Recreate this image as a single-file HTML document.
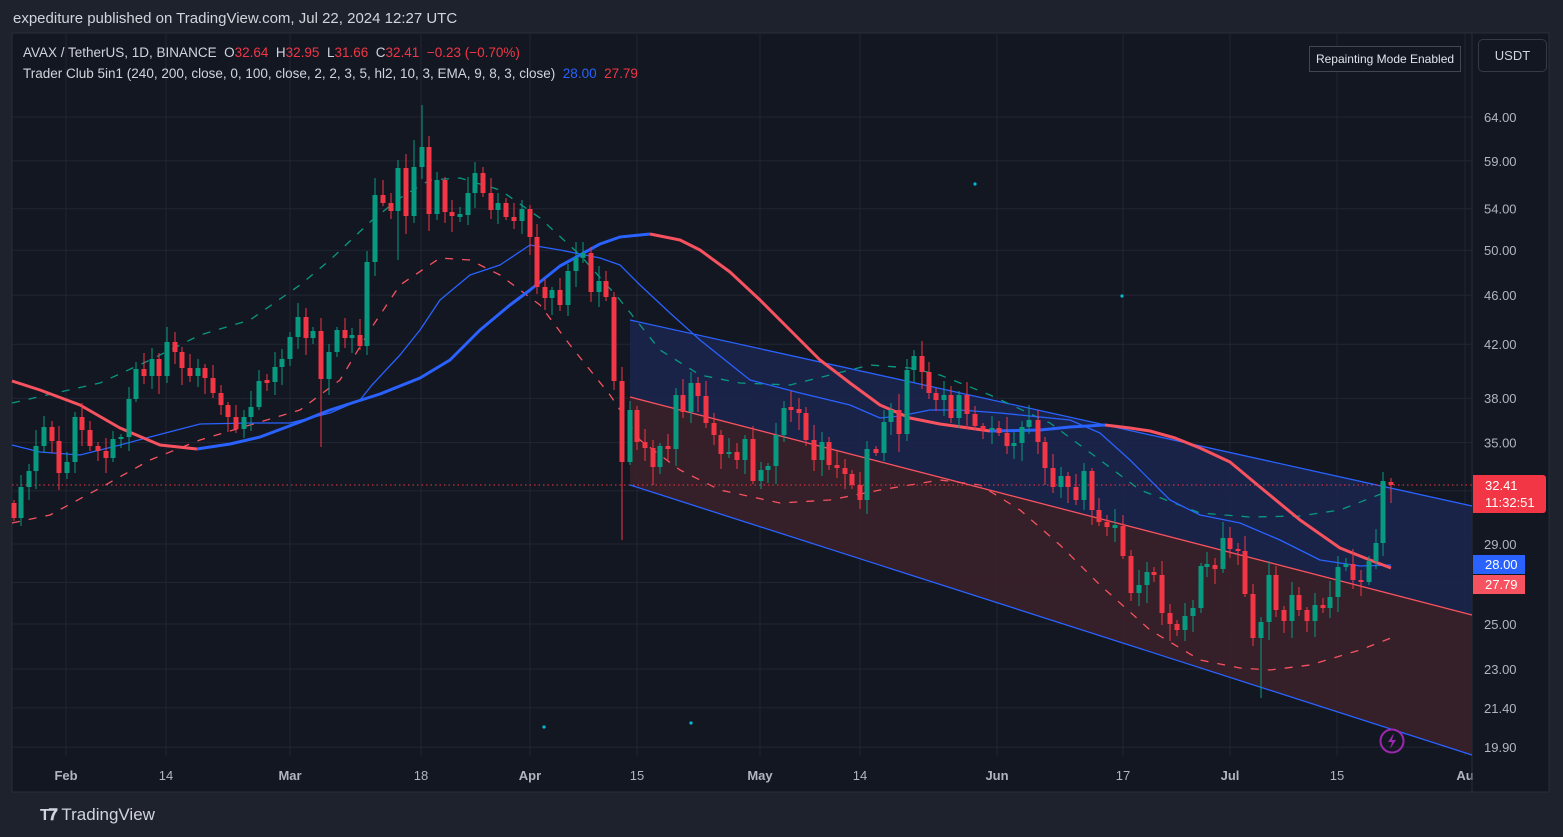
<!DOCTYPE html>
<html><head><meta charset="utf-8"><style>
html,body{margin:0;padding:0;background:#1e222d;width:1563px;height:837px;overflow:hidden;font-family:"Liberation Sans",sans-serif}
#wrap{position:absolute;left:0;top:0;width:1563px;height:837px}
.t{position:absolute;white-space:nowrap}
</style></head><body><div id="wrap">
<svg id="s" width="1563" height="837" style="position:absolute;left:0;top:0"></svg>
<div class="t" style="left:13px;top:10px;font-size:15px;color:#d1d4dc">expediture published on TradingView.com, Jul 22, 2024 12:27 UTC</div>
<div class="t" style="left:23px;top:45px;font-size:13.5px;color:#d1d4dc">AVAX / TetherUS, 1D, BINANCE&nbsp; O<span style="color:#f23645">32.64</span>&nbsp; H<span style="color:#f23645">32.95</span>&nbsp; L<span style="color:#f23645">31.66</span>&nbsp; C<span style="color:#f23645">32.41</span>&nbsp; <span style="color:#f23645">−0.23 (−0.70%)</span></div>
<div class="t" style="left:23px;top:66px;font-size:13.5px;color:#d1d4dc">Trader Club 5in1 (240, 200, close, 0, 100, close, 2, 2, 3, 5, hl2, 10, 3, EMA, 9, 8, 3, close)&nbsp; <span style="color:#2962ff">28.00</span>&nbsp; <span style="color:#f23645">27.79</span></div>
<div class="t" style="left:1309px;top:46px;width:150px;height:24px;border:1px solid #434651;background:#131722;color:#e0e3eb;font-size:12px;line-height:24px;text-align:center">Repainting Mode Enabled</div>
<div class="t" style="left:1478px;top:39px;width:67px;height:31px;border:1px solid #363a45;border-radius:5px;background:#131722;color:#d1d4dc;font-size:13px;line-height:31px;text-align:center">USDT</div>
<div class="t" style="left:1473px;top:475px;width:73px;height:38px;background:#f23645;border-radius:0 3px 3px 0;color:#fff;font-size:13px;line-height:17px;padding-left:12px;box-sizing:border-box;padding-top:2px">32.41<br>11:32:51</div>
<div class="t" style="left:1473px;top:555px;width:52px;height:19px;background:#2962ff;color:#fff;font-size:13px;line-height:19px;padding-left:12px;box-sizing:border-box">28.00</div>
<div class="t" style="left:1473px;top:575px;width:52px;height:19px;background:#f7525f;color:#fff;font-size:13px;line-height:19px;padding-left:12px;box-sizing:border-box">27.79</div>
<div class="t" style="left:40px;top:805px;font-size:17px;color:#d1d4dc"><span style="font-weight:bold;font-size:16px;letter-spacing:-1px">T𝟕</span>&nbsp;TradingView</div>
</div>
<script>
var s=document.getElementById('s'),h='';
function Y(p){return 117+(4.1589-Math.log(p))*539.4;}
h+='<rect x="12" y="33" width="1537" height="759" fill="#131722" stroke="#2a2e39"/>';
var prices=[[64,'64.00'],[59,'59.00'],[54,'54.00'],[50,'50.00'],[46,'46.00'],[42,'42.00'],[38,'38.00'],[35,'35.00'],[32,null],[29,'29.00'],[27,null],[25,'25.00'],[23,'23.00'],[21.4,'21.40'],[19.9,'19.90']];
prices.forEach(function(p){var y=Y(p[0]).toFixed(1);h+='<line x1="12" x2="1472" y1="'+y+'" y2="'+y+'" stroke="#232632"/>';if(p[1])h+='<text x="1484" y="'+(+y+5)+'" fill="#b2b5be" font-size="13" font-family="Liberation Sans">'+p[1]+'</text>';});
var dates=[[66,'Feb'],[166,'14'],[290,'Mar'],[421,'18'],[530,'Apr'],[637,'15'],[760,'May'],[860,'14'],[997,'Jun'],[1123,'17'],[1230,'Jul'],[1337,'15'],[1465,'Au']];
dates.forEach(function(d){h+='<line x1="'+d[0]+'" x2="'+d[0]+'" y1="33" y2="756" stroke="#232632"/>';var b=isNaN(+d[1]);h+='<text x="'+d[0]+'" y="780" text-anchor="middle" fill="#b2b5be" font-size="13" '+(b?'font-weight="bold" ':'')+'font-family="Liberation Sans">'+d[1]+'</text>';});
h+='<line x1="1472" x2="1472" y1="33" y2="792" stroke="#2a2e39"/>';
h+='<polygon points="630,320 1472,506 1472,615 630,397" fill="#1b264d" fill-opacity="0.85"/>';
h+='<polygon points="630,397 1472,615 1472,755 630,485" fill="#3a2029" fill-opacity="0.9"/>';
h+='<line x1="630" y1="320" x2="1472" y2="506" stroke="#2962ff" stroke-width="1.3"/>';
h+='<line x1="630" y1="397" x2="1472" y2="615" stroke="#f7525f" stroke-width="1.3"/>';
h+='<line x1="630" y1="485" x2="1472" y2="755" stroke="#2962ff" stroke-width="1.3"/>';
function pl(a,c,w,d){h+='<polyline fill="none" stroke="'+c+'" stroke-width="'+w+'" '+(d?'stroke-dasharray="'+d+'" ':'')+'stroke-linejoin="round" points="'+a.join(' ')+'"/>';}
pl(["12,403","60,392","100,383","150,360","200,335","250,320","300,285","330,260","370,222","400,198","430,180","460,178","500,190","540,218","580,255","620,300","660,350","700,375","740,383","790,385","830,375","870,365","910,368","940,375","990,395","1050,423","1100,460","1140,490","1200,513","1250,517","1300,516","1340,510","1391,490"],"#089981",1.3,"8,9");
pl(["12,523","50,515","100,488","150,460","200,440","250,425","300,410","340,380","370,330","400,285","440,258","470,260","500,275","540,305","570,345","610,395","640,440","680,470","720,490","780,503","830,500","880,490","940,480","980,485","1020,510","1060,545","1100,585","1150,630","1200,660","1240,668","1270,670","1310,665","1360,650","1391,638"],"#f7525f",1.3,"8,9");
pl(["12,445","40,452","80,455","120,445","150,437","200,424","250,423","290,423","330,413","360,400","372,385","400,355","420,330","440,300","470,275","500,265","530,245","560,250","600,258","620,265","640,285","670,313","700,340","750,380","800,393","850,405","880,418","900,416","930,410","960,410","1000,413","1050,418","1070,420","1100,433","1130,460","1170,500","1200,515","1240,523","1280,540","1320,560","1360,566","1391,565"],"#2962ff",1.3);
pl(["12,381","40,390","80,405","120,428","160,445","197,449"],"#f7525f",3);
pl(["197,449","230,444","260,437","300,422","330,410","380,394","420,378","450,360","480,330","510,305","530,290","560,266","580,255","600,244","620,237","650,234"],"#2962ff",3);
pl(["650,234","680,240","700,250","730,272","760,300","790,330","820,360","850,383","880,405","910,418","940,424","990,431"],"#f7525f",3);
pl(["990,431","1040,430","1070,427","1105,425"],"#2962ff",3);
pl(["1105,425","1130,428","1150,431","1175,438","1200,448","1230,462","1260,487","1300,520","1340,548","1370,560","1391,568"],"#f7525f",3);
h+='<line x1="12" x2="1472" y1="485" y2="485" stroke="#f23645" stroke-width="1" stroke-dasharray="1.5,3"/>';
var C=[[14,518,503],[21,487],[29,471],[36,446],[44,427],[52,441],[59,473],[67,462],[75,417],[82,430],[90,446],[98,451],[106,458],[113,439],[121,437],[129,399],[136,369],[144,376],[152,359],[159,376],[167,342],[175,352],[182,368],[190,376],[198,368],[205,378],[213,393],[221,405],[228,417],[236,429],[244,417],[251,407],[259,381],[267,382],[275,367],[282,359],[290,337],[298,317],[306,338],[313,331],[321,379],[329,352],[337,330],[345,338],[352,335],[360,346],[367,262],[375,195],[383,203],[391,211],[398,168],[406,216],[414,167],[422,147],[429,214],[437,180],[445,212],[452,216],[460,215],[468,193],[475,173],[483,193],[491,210],[498,203],[506,217],[514,221],[522,209],[530,237],[537,287],[545,298],[552,290],[560,305],[568,271],[576,258],[583,253],[591,292],[599,281],[606,297],[614,381],[622,462],[630,410],[637,442],[645,448],[653,467],[660,446],[668,449],[676,395],[683,412],[691,383],[698,396],[706,423],[714,435],[721,454],[729,452],[737,460],[745,439],[753,481],[761,470],[768,466],[776,435],[784,408],[791,409],[799,413],[806,440],[814,460],[822,442],[829,465],[837,468],[845,474],[852,485],[860,500],[867,449],[876,453],[884,422],[891,410],[899,434],[907,370],[914,356],[922,372],[929,393],[936,400],[944,395],[951,418],[959,395],[967,414],[975,426],[983,430],[992,428],[999,433],[1007,446],[1014,443],[1022,427],[1029,420],[1038,442],[1045,468],[1053,487],[1061,476],[1068,487],[1076,500],[1084,471],[1092,510],[1099,522],[1107,527],[1115,526],[1123,556],[1131,593],[1139,585],[1147,572],[1154,575],[1162,613],[1170,624],[1177,630],[1185,616],[1193,608],[1201,566],[1207,565],[1215,569],[1223,538],[1230,549],[1238,551],[1245,594],[1253,638],[1261,622],[1269,575],[1276,610],[1284,621],[1292,595],[1299,610],[1307,621],[1315,605],[1323,608],[1330,597],[1338,567],[1346,564],[1353,580],[1361,582],[1369,561],[1376,543],[1383,481],[1391,485,482]];
var special={622:[null,540],1261:[null,698],422:[105,null],321:[null,447],375:[178,null],414:[140,null],429:[136,null],398:[160,260]};
var prev=510;
for(var i=0;i<C.length;i++){var x=C[i][0],c=C[i][1],o=C[i][2]!==undefined?C[i][2]:prev;prev=c;
var up=c<o||(c==o&&i%2==0);var col=up?'#089981':'#f23645';
var t=Math.min(o,c),b=Math.max(o,c);if(b-t<2){t-=1;b+=1;}
var r1=((i*37)%14)+3,r2=((i*53)%16)+3;var hi=t-r1,lo=b+r2;
if(special[x]){if(special[x][0])hi=special[x][0];if(special[x][1])lo=special[x][1];}
h+='<line x1="'+x+'" x2="'+x+'" y1="'+hi+'" y2="'+lo+'" stroke="'+col+'" stroke-width="1"/>';
h+='<rect x="'+(x-2.5)+'" y="'+t+'" width="5" height="'+(b-t)+'" fill="'+col+'"/>';}
[[975,184],[1122,296],[544,727],[691,723]].forEach(function(p){h+='<circle cx="'+p[0]+'" cy="'+p[1]+'" r="1.6" fill="#00bcd4"/>';});
h+='<circle cx="1392" cy="741" r="11.5" fill="none" stroke="#9c27b0" stroke-width="2"/><path d="M1394,733 L1388,742 L1392,742 L1390,749 L1396,740 L1392,740 Z" fill="#9c27b0"/>';
s.innerHTML=h;
</script>
</body></html>
